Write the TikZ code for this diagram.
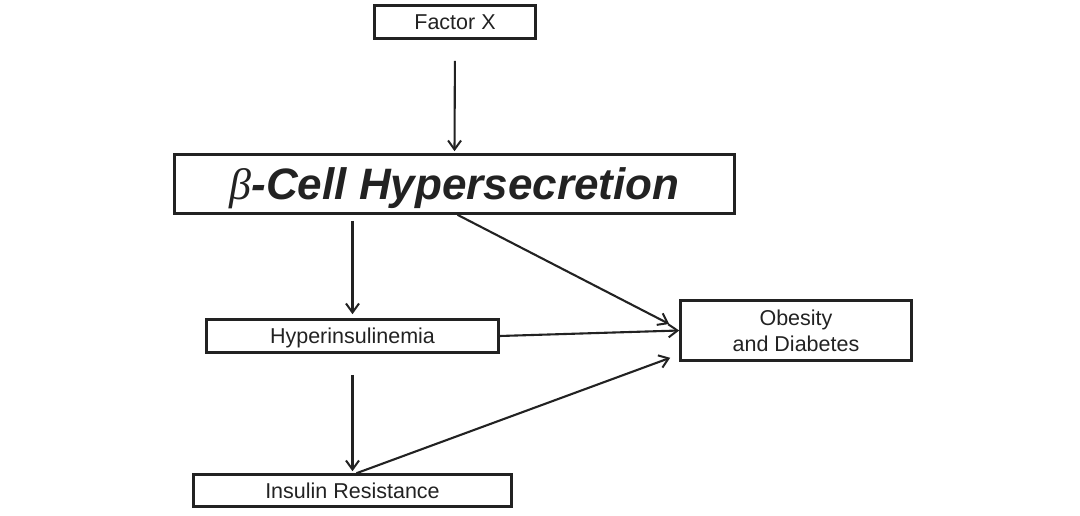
\documentclass[tikz,border=0pt]{standalone}
\usepackage{fontspec}
\setmainfont{Liberation Sans}
\newfontfamily\grkfont{Liberation Serif}
\usetikzlibrary{arrows.meta}
\definecolor{ink}{HTML}{222222}
\tikzset{
  box/.style={draw=ink, line width=2.6pt, inner sep=0pt, text=ink, align=center},
  smalltext/.style={font=\fontsize{21.5}{26}\selectfont},
  arr/.style={draw=ink, line width=2.1pt, -{Straight Barb[length=9pt,width=13pt,line width=2pt]}}
}
\begin{document}
\begin{tikzpicture}[x=1pt,y=-1pt]
\useasboundingbox (0,0) rectangle (1080,516);
\node[box, smalltext, text depth=0pt, minimum width=161pt, minimum height=33pt] (fx) at (455,22) {Factor X};
\node[box, font=\fontsize{44}{50}\selectfont\bfseries\itshape, text depth=0pt, minimum width=560pt, minimum height=59pt] (bc) at (454.5,184) {{\grkfont\itshape\mdseries β}-Cell Hypersecretion};
\node[box, smalltext, text depth=0pt, minimum width=292pt, minimum height=33pt] (hy) at (352.5,336) {Hyperinsulinemia};
\node[box, smalltext, minimum width=231pt, minimum height=60pt] (ob) at (796,330.5) {Obesity\\and Diabetes};
\node[box, smalltext, text depth=0pt, minimum width=318pt, minimum height=32pt] (ir) at (352.5,490.5) {Insulin Resistance};

\draw[arr, shorten <=21pt, shorten >=2pt] (fx.south) -- (bc.north);
\draw[arr, shorten <=6pt, shorten >=4pt] (bc.south -| hy.north) -- (hy.north);
\draw[arr, line width=2.5pt, shorten <=21pt, shorten >=2pt] (hy.south) -- (ir.north);
\draw[arr] ([xshift=3pt]bc.south) -- ([xshift=-10pt,yshift=6.5pt]ob.west);
\draw[arr] (hy.east) -- (ob.west);
\draw[arr] ([xshift=4pt]ir.north) -- ([xshift=-9pt,yshift=4pt]ob.south west);
\end{tikzpicture}
\end{document}
